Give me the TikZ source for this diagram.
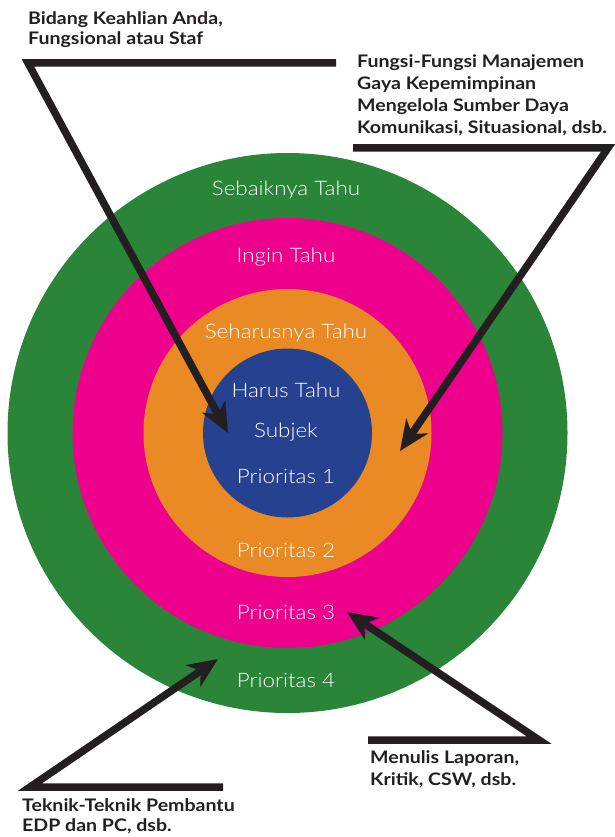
\documentclass[tikz,border=0pt]{standalone}
\usepackage{fontspec}
\setmainfont{Lato}
\newfontfamily\lightfont{Lato Light}[FakeStretch=1.12]
\newfontfamily\calloutfont{Lato Bold}[FakeStretch=1.13]
\usetikzlibrary{arrows.meta}
\definecolor{ringgreen}{HTML}{2A8539}
\definecolor{ringpink}{HTML}{EC008C}
\definecolor{ringorange}{HTML}{E98A24}
\definecolor{ringblue}{HTML}{25418F}
\definecolor{inkblack}{HTML}{231F20}
\begin{document}
\begin{tikzpicture}[x=1pt,y=-1pt,
  ring/.style={circle, inner sep=0pt, draw=none},
  ringlabel/.style={text=white, font=\lightfont\fontsize{20}{20}\selectfont, inner sep=0pt, anchor=base},
  callout/.style={text=inkblack, font=\calloutfont\fontsize{17.3}{20.5}\selectfont, align=left, inner sep=0pt, anchor=north west},
  pointer/.style={draw=inkblack, line width=7.5pt, line join=miter, -{Stealth[length=30pt,width=26pt,inset=9pt]}}
]
\useasboundingbox (0,0) rectangle (615,837);
% rings
\node[ring, fill=ringgreen, minimum size=560pt] (green) at (287.5,433) {};
\node[ring, fill=ringpink, minimum size=430pt] (pink) at (287.5,433) {};
\node[ring, fill=ringorange, minimum size=288pt] (orange) at (287.5,433) {};
\node[ring, fill=ringblue, minimum size=169pt] (blue) at (287.5,433) {};
% ring labels
\node[ringlabel] (l1) at (286,195) {Sebaiknya Tahu};
\node[ringlabel] (l2) at (286,262) {Ingin Tahu};
\node[ringlabel] (l3) at (286,338) {Seharusnya Tahu};
\node[ringlabel] (l4) at (286,397) {Harus Tahu};
\node[ringlabel] (l5) at (286,437) {Subjek};
\node[ringlabel] (l6) at (286,483) {Prioritas 1};
\node[ringlabel] (l7) at (286,557) {Prioritas 2};
\node[ringlabel] (l8) at (286,619) {Prioritas 3};
\node[ringlabel] (l9) at (286,687) {Prioritas 4};
% callouts
\node[callout] (c1) at (28,11) {Bidang Keahlian Anda,\\Fungsional atau Staf};
\node[callout, font=\calloutfont\fontsize{17.3}{22}\selectfont] (c2) at (357,54) {Fungsi-Fungsi Manajemen\\Gaya Kepemimpinan\\Mengelola Sumber Daya\\Komunikasi, Situasional, dsb.};
\node[callout, font=\calloutfont\fontsize{17.3}{22}\selectfont] (c3) at (370,750) {Menulis Laporan,\\Kritik, CSW, dsb.};
\node[callout] (c4) at (22,798) {Teknik-Teknik Pembantu\\EDP dan PC, dsb.};
% pointers
\coordinate (p1s) at (336,63); \coordinate (p1b) at (28,63); \coordinate (p1t) at (228,433);
\coordinate (p2s) at (353,148); \coordinate (p2b) at (608,148); \coordinate (p2t) at (400,451);
\coordinate (p3s) at (368,740); \coordinate (p3b) at (539,740); \coordinate (p3t) at (347,612);
\coordinate (p4s) at (223,787); \coordinate (p4b) at (30,787); \coordinate (p4t) at (218,659);
\draw[pointer] (p1s) -- (p1b) -- (p1t);
\draw[pointer] (p2s) -- (p2b) -- (p2t);
\draw[pointer] (p3s) -- (p3b) -- (p3t);
\draw[pointer] (p4s) -- (p4b) -- (p4t);
\end{tikzpicture}
\end{document}
